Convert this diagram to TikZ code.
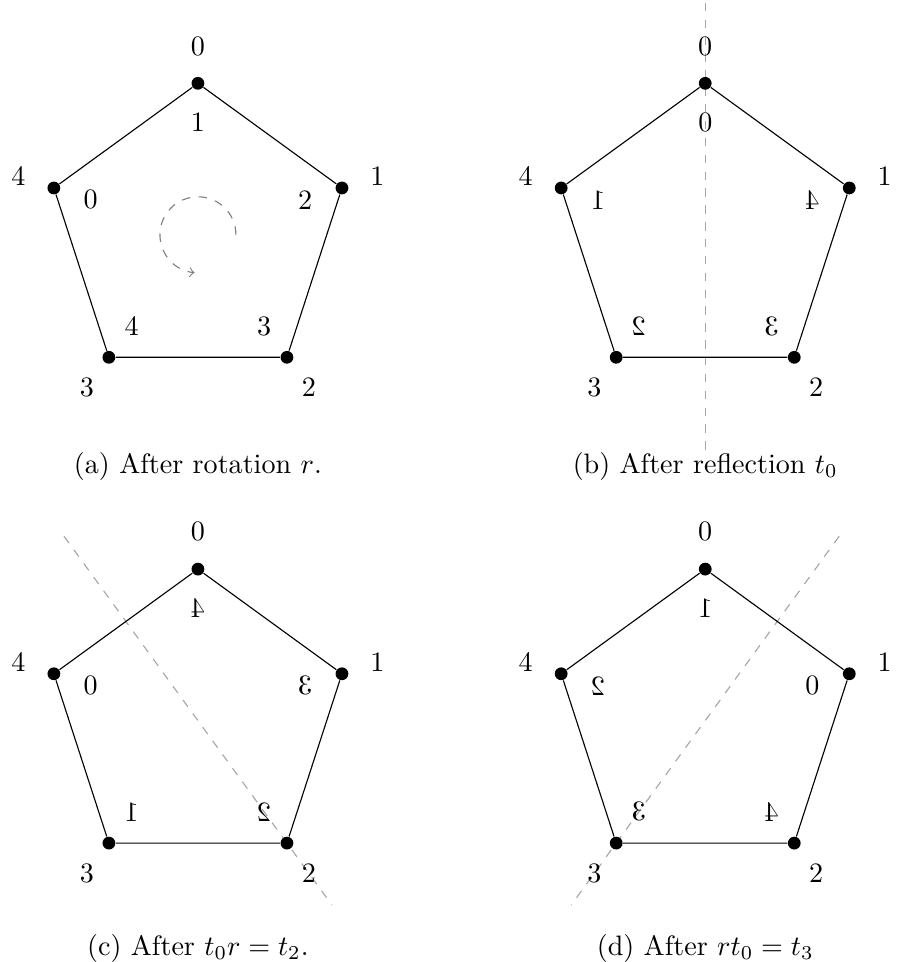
\documentclass[tikz,border=0pt]{standalone}
\usepackage{tikz}
\usetikzlibrary{positioning,calc}

\begin{document}
\begin{tikzpicture}[
    vert/.style={circle,fill=black,inner sep=0pt,minimum size=0.16cm},
    edge/.style={thin,black},
    axis/.style={dashed,gray!70},
    flip/.style={xscale=-1}]

\useasboundingbox (0,0) rectangle (11.24,12.03);

% (a) rotation
\begin{scope}[shift={(2.475,9.094)}]
\foreach \i in {0,...,4}
  \node[vert] (a\i) at (90-72*\i:1.894) {};
\draw[edge] (a0) -- (a1) -- (a2) -- (a3) -- (a4) -- (a0);
\foreach \i in {0,...,4}
  \node (aout\i) at (90-72*\i:2.36) {\i};
\foreach \j [count=\i from 0] in {1,2,3,4,0}
  \node (ain\i) at (90-72*\i:1.41) {\j};
\draw[gray,dashed,->] (0:0.475) arc[start angle=0,end angle=265,radius=0.475];
\end{scope}

% (b) reflection t0
\begin{scope}[shift={(8.819,9.094)}]
\draw[axis] (90:2.9) -- (270:2.72);
\foreach \i in {0,...,4}
  \node[vert] (b\i) at (90-72*\i:1.894) {};
\draw[edge] (b0) -- (b1) -- (b2) -- (b3) -- (b4) -- (b0);
\foreach \i in {0,...,4}
  \node (bout\i) at (90-72*\i:2.36) {\i};
\foreach \j [count=\i from 0] in {0,4,3,2,1}
  \node[flip] (bin\i) at (90-72*\i:1.41) {\j};
\end{scope}

% (c) t0 r = t2
\begin{scope}[shift={(2.475,3.019)}]
\draw[axis] (126:2.85) -- (-54:2.85);
\foreach \i in {0,...,4}
  \node[vert] (c\i) at (90-72*\i:1.894) {};
\draw[edge] (c0) -- (c1) -- (c2) -- (c3) -- (c4) -- (c0);
\foreach \i in {0,...,4}
  \node (cout\i) at (90-72*\i:2.36) {\i};
\foreach \j [count=\i from 0] in {4,3,2,1,0}
  \node[flip] (cin\i) at (90-72*\i:1.41) {\j};
\end{scope}

% (d) r t0 = t3
\begin{scope}[shift={(8.819,3.019)}]
\draw[axis] (54:2.85) -- (234:2.85);
\foreach \i in {0,...,4}
  \node[vert] (d\i) at (90-72*\i:1.894) {};
\draw[edge] (d0) -- (d1) -- (d2) -- (d3) -- (d4) -- (d0);
\foreach \i in {0,...,4}
  \node (dout\i) at (90-72*\i:2.36) {\i};
\foreach \j [count=\i from 0] in {1,0,4,3,2}
  \node[flip] (din\i) at (90-72*\i:1.41) {\j};
\end{scope}

% captions
\node (capa) at (2.475,6.2) {(a) After rotation $r$.};
\node (capb) at (8.819,6.2) {(b) After reflection $t_0$};
\node (capc) at (2.475,0.17) {(c) After $t_0r=t_2$.};
\node (capd) at (8.819,0.17) {(d) After $rt_0=t_3$};

\end{tikzpicture}
\end{document}
